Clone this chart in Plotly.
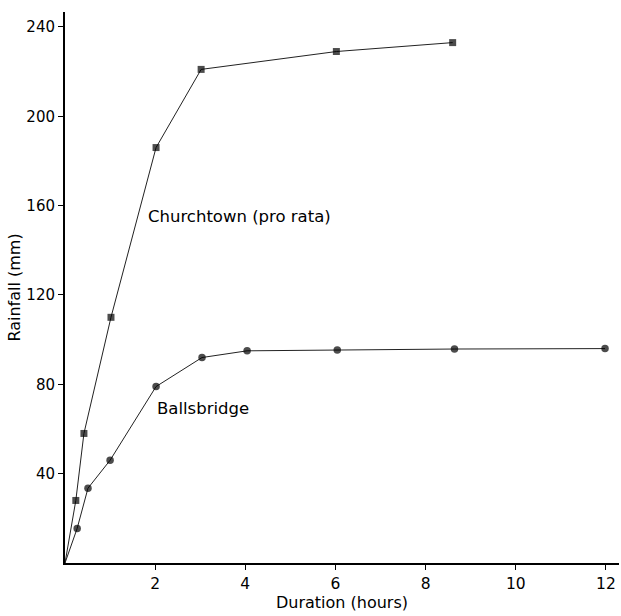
import plotly.graph_objects as go

churchtown_x = [0, 0.24, 0.42, 1.02, 2.02, 3.02, 6.02, 8.6]
churchtown_y = [0, 28, 58, 110, 186, 221, 229, 233]

ballsbridge_x = [0, 0.27, 0.51, 1.0, 2.02, 3.04, 4.04, 6.04, 8.64, 11.98]
ballsbridge_y = [0, 15.5, 33.5, 46, 79, 92, 95, 95.4, 95.8, 96]

x_ticks = [2, 4, 6, 8, 10, 12]
y_ticks = [40, 80, 120, 160, 200, 240]

FONT = "DejaVu Sans"

fig = go.Figure()
fig.add_trace(go.Scatter(
    x=churchtown_x, y=churchtown_y, mode="lines+markers",
    line=dict(color="#222", width=1),
    marker=dict(symbol="square", size=[0] + [7] * (len(churchtown_x) - 1), color="black",
                line=dict(width=0)),
    showlegend=False,
))
fig.add_trace(go.Scatter(
    x=ballsbridge_x, y=ballsbridge_y, mode="lines+markers",
    line=dict(color="#222", width=1),
    marker=dict(symbol="circle", size=[0] + [7.5] * (len(ballsbridge_x) - 1), color="black",
                line=dict(width=0)),
    showlegend=False,
))

fig.add_annotation(x=1.8, y=155, text="Churchtown (pro rata)", showarrow=False,
                   xanchor="left", yanchor="middle", font=dict(family=FONT, size=16.5, color="black"))
fig.add_annotation(x=2.0, y=69, text="Ballsbridge", showarrow=False,
                   xanchor="left", yanchor="middle", font=dict(family=FONT, size=16.5, color="black"))

fig.update_layout(
    width=621, height=616,
    margin=dict(l=65, r=2, t=12, b=53),
    plot_bgcolor="white", paper_bgcolor="white",
    font=dict(family=FONT, size=16, color="black"),
    xaxis=dict(
        range=[0, 12.29], tickvals=x_ticks, ticks="outside", ticklen=5, tickwidth=1,
        tickcolor="black", showline=True, linecolor="black", linewidth=2,
        showgrid=False, zeroline=False, tickfont=dict(size=15.5),
        title=dict(text="Duration (hours)", standoff=5, font=dict(size=16)),
    ),
    yaxis=dict(
        range=[0, 246.7], tickvals=y_ticks, ticks="outside", ticklen=5, tickwidth=1,
        tickcolor="black", showline=True, linecolor="black", linewidth=2,
        showgrid=False, zeroline=False, tickfont=dict(size=15),
        title=dict(text="Rainfall (mm)", standoff=2, font=dict(size=16)),
    ),
)

fig.write_html("out.html")
